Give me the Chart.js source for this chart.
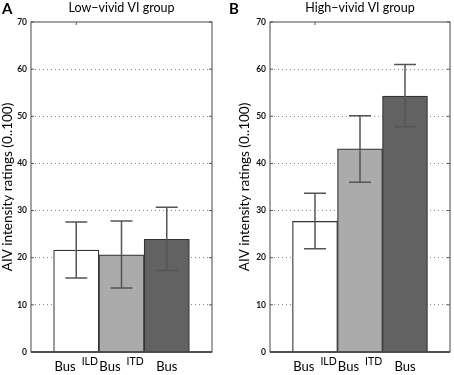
<!DOCTYPE html>
<html>
<head>
<meta charset="utf-8">
<script src="https://cdn.jsdelivr.net/npm/chart.js@4/dist/chart.umd.min.js"></script>
<style>
  html, body { margin: 0; padding: 0; background: #fff; }
  .panel { position: absolute; top: 0; width: 227px; height: 375px; }
  #panelA { left: 0; }
  #panelB { left: 227px; }
</style>
</head>
<body>
<div class="panel" id="panelA"><canvas id="chartA" width="227" height="375"></canvas></div>
<div class="panel" id="panelB"><canvas id="chartB" width="227" height="375"></canvas></div>
<script>
// categories (x = 1..3 on a 0..4 axis, like the original)
const xPositions = [1, 2, 3];
const labelBase = ['Bus', 'Bus', 'Bus'];
const labelSup = ['ILD', 'ITD', ''];
const barColors = ['#ffffff', '#ababab', '#626262'];

// low-vivid group
const lowMeans = [21.6, 20.6, 23.9];
const lowErrLow = [15.7, 13.6, 17.3];
const lowErrHigh = [27.6, 27.8, 30.7];

// high-vivid group
const highMeans = [27.7, 43.1, 54.3];
const highErrLow = [21.9, 36.0, 47.8];
const highErrHigh = [33.7, 50.1, 61.0];

const yMin = 0, yMax = 70, yStep = 10;
const FONT = 'Lato, "Open Sans", sans-serif';

/**
 * Frame, inner ticks, error bars and texts, all placed from the scales.
 */
const decorations = {
    id: 'decorations',
    afterDatasetsDraw(chart, args, opts) {
        const { ctx, chartArea: a, scales: { x, y } } = chart;
        ctx.save();

        // error bars
        ctx.strokeStyle = '#555';
        ctx.lineWidth = 1.5;
        opts.low.forEach((lo, i) => {
            const cx = x.getPixelForValue(xPositions[i]);
            const y1 = y.getPixelForValue(lo);
            const y2 = y.getPixelForValue(opts.high[i]);
            ctx.beginPath();
            ctx.moveTo(cx, y1); ctx.lineTo(cx, y2);
            ctx.moveTo(cx - 11, y1); ctx.lineTo(cx + 11, y1);
            ctx.moveTo(cx - 11, y2); ctx.lineTo(cx + 11, y2);
            ctx.stroke();
        });

        // box
        ctx.strokeStyle = '#666';
        ctx.lineWidth = 1.2;
        ctx.strokeRect(a.left, a.top, a.right - a.left, a.bottom - a.top);
        ctx.strokeStyle = '#333';
        ctx.lineWidth = 1.6;
        ctx.beginPath();
        ctx.moveTo(a.left, a.bottom); ctx.lineTo(a.right, a.bottom);
        ctx.stroke();

        // inner ticks on both sides
        ctx.strokeStyle = '#555';
        ctx.lineWidth = 1;
        y.ticks.forEach(t => {
            const py = y.getPixelForValue(t.value);
            ctx.beginPath();
            ctx.moveTo(a.left, py); ctx.lineTo(a.left + 3, py);
            ctx.moveTo(a.right, py); ctx.lineTo(a.right - 3, py);
            ctx.stroke();
        });
        const tx = x.getPixelForValue(xPositions[0]);
        ctx.beginPath();
        ctx.moveTo(tx, a.top); ctx.lineTo(tx, a.top + 3);
        ctx.stroke();

        // x labels with superscripts
        ctx.fillStyle = '#000';
        ctx.textBaseline = 'alphabetic';
        ctx.textAlign = 'left';
        labelBase.forEach((base, i) => {
            const cx = x.getPixelForValue(xPositions[i]);
            ctx.font = '13px ' + FONT;
            const wb = ctx.measureText(base).width;
            ctx.font = '10.5px ' + FONT;
            const ws = labelSup[i] ? ctx.measureText(labelSup[i]).width + 6 : 0;
            const left = cx - (wb + ws) / 2;
            ctx.font = '13px ' + FONT;
            ctx.fillText(base, left, 371);
            if (labelSup[i]) {
                ctx.font = '10.5px ' + FONT;
                ctx.fillText(labelSup[i], left + wb + 6, 365);
            }
        });

        // panel letter and title
        ctx.font = 'bold 15px ' + FONT;
        ctx.fillText(opts.letter, opts.letterX, 14);
        ctx.font = '12.5px ' + FONT;
        ctx.textAlign = 'center';
        ctx.fillText(opts.title, (a.left + a.right) / 2, 12);

        // y axis title
        ctx.save();
        ctx.translate(opts.yTitleX, (a.top + a.bottom) / 2);
        ctx.rotate(-Math.PI / 2);
        ctx.font = '13.5px ' + FONT;
        ctx.textBaseline = 'middle';
        ctx.fillText('AIV intensity ratings (0..100)', 0, 0);
        ctx.restore();

        ctx.restore();
    }
};

const makeChart = (canvasId, means, low, high, letter, title, leftWidth, rightPad, yTitleX) => {
    return new Chart(document.getElementById(canvasId), {
        type: 'bar',
        data: {
            datasets: [{
                data: means.map((v, i) => ({ x: xPositions[i], y: v })),
                backgroundColor: barColors,
                borderColor: '#333',
                borderWidth: 1.2,
                barPercentage: 1,
                categoryPercentage: 1,
            }],
        },
        options: {
            responsive: false,
            animation: false,
            layout: { padding: { top: 22, right: rightPad, left: 0, bottom: 0 } },
            plugins: {
                legend: { display: false },
                tooltip: { enabled: false },
                decorations: { low, high, letter, title, letterX: 2, yTitleX },
            },
            scales: {
                x: {
                    type: 'linear',
                    min: 0, max: 4,
                    offset: false,
                    ticks: { display: false, stepSize: 1 },
                    grid: { display: false, offset: false },
                    border: { display: false },
                    afterFit: s => { s.height = 23; },
                },
                y: {
                    min: yMin, max: yMax,
                    ticks: {
                        stepSize: yStep,
                        padding: 4,
                        color: '#111',
                        font: { family: FONT, size: 8.5, weight: 'bold' },
                    },
                    grid: {
                        drawTicks: false,
                        color: c => (c.tick && (c.tick.value === yMin || c.tick.value === yMax)) ? 'rgba(0,0,0,0)' : '#8a8a8a',
                        lineWidth: 1,
                    },
                    border: { display: false, dash: [1, 3] },
                    afterFit: s => { s.width = leftWidth; },
                },
            },
        },
        plugins: [decorations],
    });
};

makeChart('chartA', lowMeans, lowErrLow, lowErrHigh, 'A', 'Low\u2212vivid VI group', 31, 15, 8);
makeChart('chartB', highMeans, highErrLow, highErrHigh, 'B', 'High\u2212vivid VI group', 43, 4, 18);
</script>
</body>
</html>
